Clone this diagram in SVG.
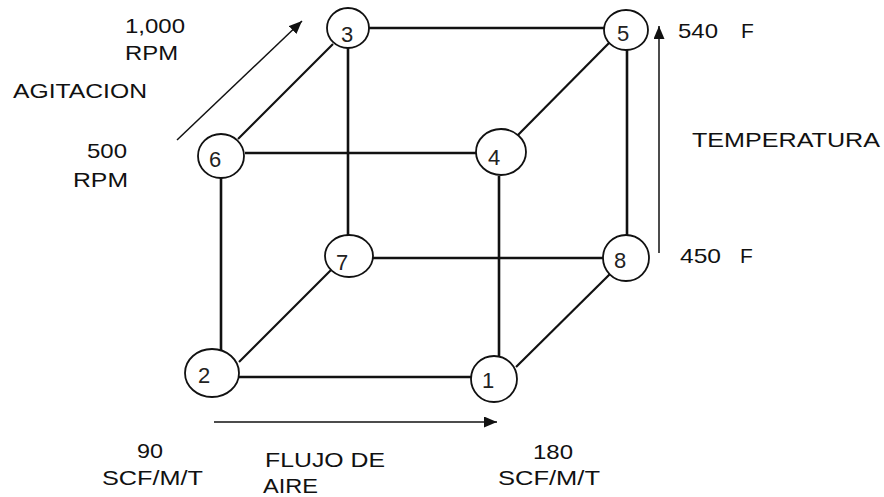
<svg xmlns="http://www.w3.org/2000/svg" width="884" height="497" viewBox="0 0 884 497">
<style>
.edge{stroke:#111;stroke-width:2.6;fill:none;stroke-linecap:butt}
.diag{stroke:#111;stroke-width:2.2;fill:none}
.arrow{stroke:#111;stroke-width:1.5;fill:none}
.node{fill:#fff;stroke:#111;stroke-width:1.8}
.num{font-family:"Liberation Sans",Arial,sans-serif;font-size:22px;fill:#222;text-anchor:middle}
.lbl{font-family:"Liberation Sans",Arial,sans-serif;font-size:21px;fill:#111}
</style>
<defs>
<marker id="ah" markerUnits="userSpaceOnUse" markerWidth="16" markerHeight="12" refX="13" refY="5.5" orient="auto">
<path d="M0,0 L13,5.5 L0,11 Z" fill="#111"/>
</marker>
</defs>
<rect width="884" height="497" fill="#fff"/>
<g id="connectors">
<line class="edge" x1="369" y1="28" x2="604" y2="28"/>
<line class="diag" x1="333" y1="44" x2="238" y2="139"/>
<line class="edge" x1="348" y1="47" x2="348" y2="235"/>
<line class="edge" x1="245" y1="153" x2="477" y2="153"/>
<line class="diag" x1="609" y1="43" x2="515" y2="138"/>
<line class="edge" x1="627" y1="50" x2="627" y2="235"/>
<line class="edge" x1="499" y1="176" x2="499" y2="356"/>
<line class="edge" x1="221" y1="178" x2="221" y2="350"/>
<line class="edge" x1="373" y1="258" x2="603" y2="258"/>
<line class="diag" x1="239" y1="362" x2="334" y2="267"/>
<line class="edge" x1="239" y1="377" x2="472" y2="377"/>
<line class="diag" x1="516" y1="367" x2="610" y2="274"/>
<line class="arrow" x1="177" y1="140" x2="302" y2="21" marker-end="url(#ah)"/>
<line class="arrow" x1="659" y1="253" x2="659" y2="26" marker-end="url(#ah)"/>
<line class="arrow" x1="214" y1="422" x2="497" y2="422" marker-end="url(#ah)"/>
</g>
<g id="node3"><ellipse class="node" cx="348" cy="28" rx="21" ry="20"/><text class="num" x="347" y="42">3</text></g>
<g id="node5"><ellipse class="node" cx="626" cy="30" rx="22" ry="20"/><text class="num" x="623" y="41">5</text></g>
<g id="node6"><ellipse class="node" cx="221" cy="156" rx="23" ry="22"/><text class="num" x="215" y="167">6</text></g>
<g id="node4"><ellipse class="node" cx="501" cy="152" rx="25" ry="23"/><text class="num" x="494" y="165">4</text></g>
<g id="node7"><ellipse class="node" cx="349" cy="256" rx="24" ry="21"/><text class="num" x="342" y="270">7</text></g>
<g id="node8"><ellipse class="node" cx="626" cy="258" rx="23" ry="23"/><text class="num" x="620" y="268">8</text></g>
<g id="node2"><ellipse class="node" cx="212" cy="373" rx="27" ry="24"/><text class="num" x="204" y="383">2</text></g>
<g id="node1"><ellipse class="node" cx="494" cy="379" rx="23" ry="23"/><text class="num" x="488" y="388">1</text></g>
<g id="labels">
<text class="lbl" x="125" y="33" textLength="60" lengthAdjust="spacingAndGlyphs">1,000</text>
<text class="lbl" x="125" y="60" textLength="53" lengthAdjust="spacingAndGlyphs">RPM</text>
<text class="lbl" x="13" y="98" textLength="134" lengthAdjust="spacingAndGlyphs">AGITACION</text>
<text class="lbl" x="87" y="158" textLength="40" lengthAdjust="spacingAndGlyphs">500</text>
<text class="lbl" x="73" y="187" textLength="55" lengthAdjust="spacingAndGlyphs">RPM</text>
<text class="lbl" x="678" y="38" textLength="40" lengthAdjust="spacingAndGlyphs">540</text>
<text class="lbl" x="741" y="38">F</text>
<text class="lbl" x="692" y="147" textLength="188" lengthAdjust="spacingAndGlyphs">TEMPERATURA</text>
<text class="lbl" x="680" y="263" textLength="41" lengthAdjust="spacingAndGlyphs">450</text>
<text class="lbl" x="740" y="263">F</text>
<text class="lbl" x="137" y="458" textLength="26" lengthAdjust="spacingAndGlyphs">90</text>
<text class="lbl" x="102" y="485" textLength="101" lengthAdjust="spacingAndGlyphs">SCF/M/T</text>
<text class="lbl" x="265" y="467" textLength="120" lengthAdjust="spacingAndGlyphs">FLUJO DE</text>
<text class="lbl" x="263" y="493" textLength="55" lengthAdjust="spacingAndGlyphs">AIRE</text>
<text class="lbl" x="533" y="459" textLength="40" lengthAdjust="spacingAndGlyphs">180</text>
<text class="lbl" x="498" y="485" textLength="102" lengthAdjust="spacingAndGlyphs">SCF/M/T</text>
</g>
</svg>
